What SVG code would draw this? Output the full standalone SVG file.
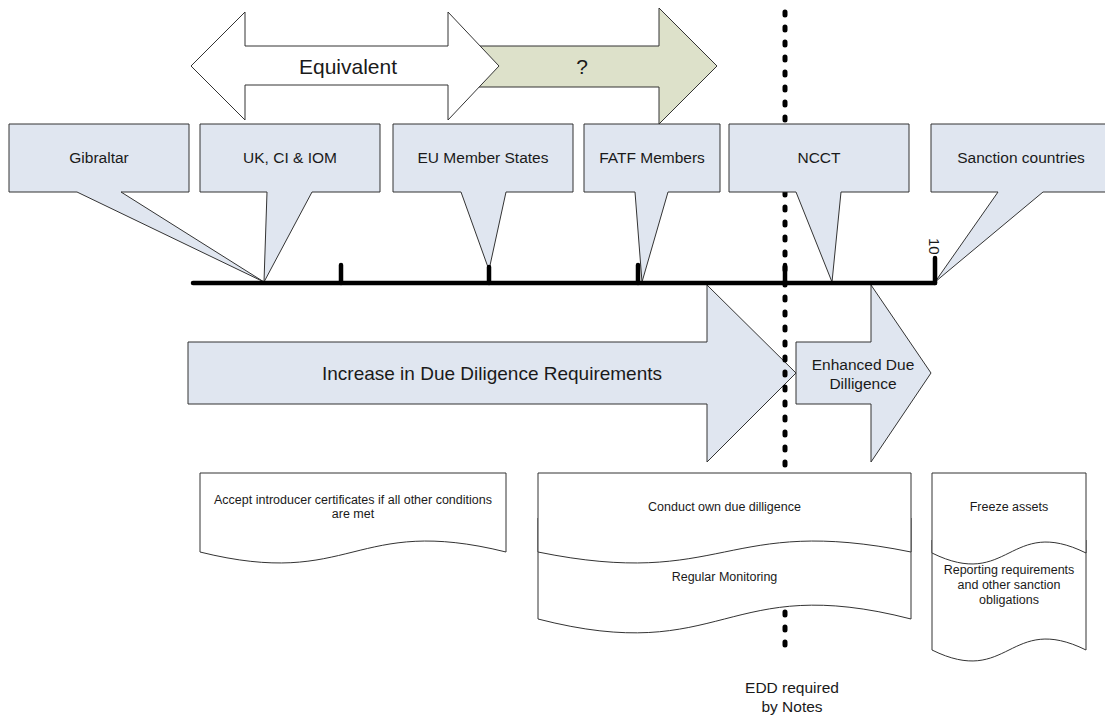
<svg xmlns="http://www.w3.org/2000/svg" width="1105" height="718" viewBox="0 0 1105 718">
<style>
text{font-family:"Liberation Sans",Arial,sans-serif;fill:#1a1a1a;text-anchor:middle;dominant-baseline:central}
.blue{fill:#E0E6F0;stroke:#333;stroke-width:1}
.doc{fill:#fff;stroke:#333;stroke-width:1}
.c{font-size:15.5px}
.d{font-size:12.5px}
.tick{stroke:#000;stroke-width:4.5;stroke-linecap:round}
</style>
<rect width="1105" height="718" fill="#fff"/>
<g id="arrow-question">
<path d="M470,46 H659 V8 L717,66 L659,124 V87 H470 Z" fill="#DDE1CA" stroke="#333"/>
<text x="582" y="66" font-size="21">?</text>
</g>
<g id="arrow-equivalent">
<path d="M191,66 L245,12 V46 H448 V12 L499,66 L448,120 V85 H245 V120 Z" fill="#fff" stroke="#333"/>
<text x="348" y="66" font-size="21">Equivalent</text>
</g>
<g id="arrow-increase">
<path class="blue" d="M188,342 H707 V285 L796,373 L707,462 V404 H188 Z"/>
<text x="492" y="373" font-size="19">Increase in Due Diligence Requirements</text>
</g>
<g id="arrow-edd">
<path class="blue" d="M796,342 H871 V285 L931,373 L871,462 V404 H796 Z"/>
<text class="c" x="863" y="364">Enhanced Due</text>
<text class="c" x="863" y="383">Dilligence</text>
</g>
<g id="connectors-dotted">
<line x1="785" y1="12" x2="785" y2="655" stroke="#000" stroke-width="5" stroke-dasharray="3 12" stroke-linecap="round"/>
</g>
<g id="callout-gibraltar">
<path class="blue" d="M9,124 H189 V192 H121 L264,282 L77,192 H9 Z"/>
<text class="c" x="99" y="157">Gibraltar</text>
</g>
<g id="callout-uk">
<path class="blue" d="M200,124 H380 V192 H312 L264,282 L267,192 H200 Z"/>
<text class="c" x="290" y="157">UK, CI &amp; IOM</text>
</g>
<g id="callout-eu">
<path class="blue" d="M393,124 H573 V192 H506 L489,270 L461,192 H393 Z"/>
<text class="c" x="483" y="157">EU Member States</text>
</g>
<g id="callout-fatf">
<path class="blue" d="M584,124 H720 V192 H668 L642,282 L635,192 H584 Z"/>
<text class="c" x="652" y="157">FATF Members</text>
</g>
<g id="callout-ncct">
<path class="blue" d="M729,124 H909 V192 H841 L832,282 L796,192 H729 Z"/>
<text class="c" x="819" y="157">NCCT</text>
</g>
<g id="callout-sanction">
<path class="blue" d="M931,124 H1111 V192 H1043 L935,282 L998,192 H931 Z"/>
<text class="c" x="1021" y="157">Sanction countries</text>
</g>
<g id="timeline">
<line class="tick" x1="193" y1="283" x2="935" y2="283"/>
<line class="tick" x1="341" y1="265" x2="341" y2="283"/>
<line class="tick" x1="489" y1="267" x2="489" y2="283"/>
<line class="tick" x1="638" y1="265" x2="638" y2="283"/>
<line class="tick" x1="785" y1="265" x2="785" y2="283"/>
<line class="tick" x1="935" y1="258" x2="935" y2="283"/>
<text transform="translate(929,238) rotate(90)" font-size="15" style="text-anchor:start;dominant-baseline:auto">10</text>
</g>
<g id="doc-accept">
<path class="doc" d="M200,473 H506 V552 C353,514 353,590 200,552 Z"/>
<text class="d" x="353" y="500">Accept introducer certificates if all other conditions</text>
<text class="d" x="353" y="514">are met</text>
</g>
<g id="doc-monitoring">
<path class="doc" d="M538,518 H911 V619 C724.5,571 724.5,667 538,619 Z"/>
<text class="d" x="724.5" y="577">Regular Monitoring</text>
</g>
<g id="doc-conduct">
<path class="doc" d="M538,473 H911 V552 C724.5,514 724.5,590 538,552 Z"/>
<text class="d" x="724.5" y="507">Conduct own due dilligence</text>
</g>
<g id="doc-reporting">
<path class="doc" d="M932,540 H1086 V650 C1009,612 1009,688 932,650 Z"/>
<text class="d" x="1009" y="570">Reporting requirements</text>
<text class="d" x="1009" y="585">and other sanction</text>
<text class="d" x="1009" y="600">obligations</text>
</g>
<g id="doc-freeze">
<path class="doc" d="M932,473 H1086 V553 C1009,515 1009,591 932,553 Z"/>
<text class="d" x="1009" y="507">Freeze assets</text>
</g>
<g id="label-edd">
<text class="c" x="792" y="687">EDD required</text>
<text class="c" x="792" y="706">by Notes</text>
</g>
</svg>
